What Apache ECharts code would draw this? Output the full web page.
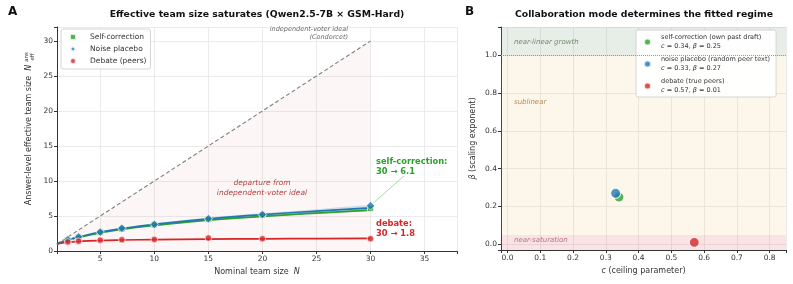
<!DOCTYPE html>
<html>
<head>
<meta charset="utf-8">
<script src="https://cdn.jsdelivr.net/npm/echarts@6/dist/echarts.min.js"></script>
<style>
  html, body { margin: 0; padding: 0; background: #fff; }
  #main { width: 793px; height: 284px; }
</style>
</head>
<body>
<div id="main"></div>
<script>
// ---- panel A data ----
var fitN = [1, 2, 3, 5, 7, 10, 15, 20, 25, 30];
var selfFit = [1.0, 1.55, 1.95, 2.6, 3.1, 3.65, 4.4, 4.95, 5.4, 5.85];
var selfLo = [1.0, 1.52, 1.9, 2.55, 3.03, 3.57, 4.3, 4.83, 5.27, 5.7];
var selfHi = [1.0, 1.58, 2.0, 2.65, 3.17, 3.73, 4.5, 5.07, 5.53, 6.0];
var noiseFit = [1.0, 1.6, 2.0, 2.7, 3.2, 3.8, 4.6, 5.2, 5.7, 6.15];
var noiseLo = [1.0, 1.55, 1.93, 2.6, 3.08, 3.65, 4.42, 4.98, 5.42, 5.8];
var noiseHi = [1.0, 1.65, 2.07, 2.8, 3.32, 3.95, 4.78, 5.42, 5.98, 6.5];
var debateFit = [1.0, 1.25, 1.37, 1.5, 1.57, 1.63, 1.7, 1.74, 1.77, 1.79];
var debateLo = [1.0, 1.15, 1.27, 1.4, 1.47, 1.53, 1.6, 1.64, 1.67, 1.69];
var debateHi = [1.0, 1.35, 1.47, 1.6, 1.67, 1.73, 1.8, 1.84, 1.87, 1.89];

var obsN = [2, 3, 5, 7, 10, 15, 20, 30];
var selfObs = [1.55, 1.95, 2.65, 3.15, 3.75, 4.55, 5.15, 6.1];
var noiseObs = [1.6, 2.0, 2.7, 3.25, 3.8, 4.6, 5.2, 6.45];
var debateObs = [1.3, 1.4, 1.55, 1.6, 1.65, 1.85, 1.75, 1.75];

var idealLine = [[1, 1], [30, 30]];

// ---- panel B data ----
var modes = ['self-correction (own past draft)', 'noise placebo (random peer text)', 'debate (true peers)'];
var cVals = [0.34, 0.33, 0.57];
var betaVals = [0.25, 0.27, 0.01];
var modeColors = ['#2ca02c', '#1f77b4', '#d62728'];

var GREEN = '#2ca02c', BLUE = '#1f77b4', RED = '#d62728';
var FONT = 'DejaVu Sans';

function pairs(xs, ys) {
    return xs.map(function (x, i) { return [x, ys[i]]; });
}

// confidence band drawn as one polygon through the axis scales
function bandSeries(lo, hi, color) {
    return {
        type: 'custom', xAxisIndex: 0, yAxisIndex: 0, silent: true, z: 2,
        data: [[fitN[0], lo[0]]],
        renderItem: function (params, api) {
            var pts = [];
            for (var i = 0; i < fitN.length; i++) pts.push(api.coord([fitN[i], hi[i]]));
            for (var j = fitN.length - 1; j >= 0; j--) pts.push(api.coord([fitN[j], lo[j]]));
            return {
                type: 'polygon', shape: {points: pts, smooth: 0.3},
                style: {fill: color, stroke: null}
            };
        }
    };
}

var axisLineStyle = {show: true, onZero: false, lineStyle: {color: '#333', width: 1}};
var splitLineStyle = {show: true, lineStyle: {color: '#e6e6e6', width: 0.8}};
var tickStyle = {show: true, length: 3, lineStyle: {color: '#333'}};
var labelStyle = {fontFamily: FONT, fontSize: 7.5, color: '#333', margin: 4};

var chart = echarts.init(document.getElementById('main'), null, {renderer: 'canvas'});

var series = [];
// departure region and ideal diagonal
series.push({
    type: 'line', xAxisIndex: 0, yAxisIndex: 0, data: idealLine, symbol: 'none',
    lineStyle: {opacity: 0}, areaStyle: {color: 'rgba(220,80,70,0.07)', origin: 'start'}, silent: true, z: 1
});
series.push({
    type: 'line', xAxisIndex: 0, yAxisIndex: 0, data: idealLine, symbol: 'none',
    lineStyle: {color: '#7f7f7f', width: 1.1, type: [4, 2.5]}, silent: true, z: 3
});
series.push(bandSeries(selfLo, selfHi, 'rgba(44,160,44,0.15)'));
series.push(bandSeries(noiseLo, noiseHi, 'rgba(31,119,180,0.2)'));
series.push(bandSeries(debateLo, debateHi, 'rgba(214,39,40,0.15)'));
[[selfFit, GREEN], [noiseFit, BLUE], [debateFit, RED]].forEach(function (f) {
    series.push({
        type: 'line', xAxisIndex: 0, yAxisIndex: 0, data: pairs(fitN, f[0]), smooth: true,
        symbol: 'none', lineStyle: {color: f[1], width: 1.7}, silent: true, z: 4
    });
});
series.push({
    name: 'Self-correction', type: 'scatter', xAxisIndex: 0, yAxisIndex: 0,
    data: pairs(obsN, selfObs), symbol: 'rect', symbolSize: 6,
    itemStyle: {color: GREEN, borderColor: '#fff', borderWidth: 0.8}, z: 5
});
series.push({
    name: 'Noise placebo', type: 'scatter', xAxisIndex: 0, yAxisIndex: 0,
    data: pairs(obsN, noiseObs), symbol: 'diamond', symbolSize: 8.5,
    itemStyle: {color: BLUE, borderColor: '#fff', borderWidth: 0.8}, z: 6
});
series.push({
    name: 'Debate (peers)', type: 'scatter', xAxisIndex: 0, yAxisIndex: 0,
    data: pairs(obsN, debateObs), symbol: 'circle', symbolSize: 6.5,
    itemStyle: {color: RED, borderColor: '#fff', borderWidth: 0.8}, z: 6
});

// panel B
series.push({
    type: 'scatter', xAxisIndex: 1, yAxisIndex: 1, data: [], silent: true,
    markArea: {
        silent: true,
        data: [
            [{yAxis: 1.0, itemStyle: {color: 'rgba(120,160,120,0.18)'}}, {yAxis: 1.15}],
            [{yAxis: 0.05, itemStyle: {color: 'rgba(240,200,110,0.14)'}}, {yAxis: 1.0}],
            [{yAxis: -0.03, itemStyle: {color: 'rgba(230,100,110,0.18)'}}, {yAxis: 0.05}]
        ]
    },
    markLine: {
        silent: true, symbol: 'none', label: {show: false},
        lineStyle: {color: '#8aa383', type: 'dotted', width: 1},
        data: [{yAxis: 1.0}]
    }
});
modes.forEach(function (m, i) {
    series.push({
        name: m, type: 'scatter', xAxisIndex: 1, yAxisIndex: 1,
        data: [[cVals[i], betaVals[i]]], symbol: 'circle', symbolSize: 10,
        itemStyle: {color: modeColors[i], borderColor: '#fff', borderWidth: 1.2}, z: 5 + i
    });
});

var legendB = {};
modes.forEach(function (m, i) {
    legendB[m] = '{t|' + m + '}\n{i|c}{t| = ' + cVals[i].toFixed(2) + ', }{i|β}{t| = ' + betaVals[i].toFixed(2) + '}';
});

var option = {
    animation: false,
    backgroundColor: '#fff',
    textStyle: {fontFamily: FONT},
    grid: [
        {left: 57, right: 336, top: 27, bottom: 33},
        {left: 501, right: 7, top: 27, bottom: 34}
    ],
    legend: [
        {
            data: ['Self-correction', 'Noise placebo', 'Debate (peers)'],
            left: 61, top: 29, orient: 'vertical', itemGap: 4, itemWidth: 6, itemHeight: 6,
            padding: [4, 4, 4, 8], borderColor: '#ccc', borderWidth: 0.8, borderRadius: 2,
            backgroundColor: 'rgba(255,255,255,0.85)',
            textStyle: {fontFamily: FONT, fontSize: 7.5, color: '#333', padding: [0, 0, 0, 9]}
        },
        {
            data: modes,
            left: 636, top: 30, orient: 'vertical', itemGap: 6, itemWidth: 7, itemHeight: 7,
            padding: [4, 6, 3, 7], borderColor: '#ccc', borderWidth: 0.8, borderRadius: 2,
            backgroundColor: 'rgba(255,255,255,0.9)',
            formatter: function (name) { return legendB[name]; },
            textStyle: {
                fontFamily: FONT, fontSize: 6.5, color: '#333', padding: [0, 0, 0, 5],
                rich: {
                    t: {fontFamily: FONT, fontSize: 6.5, color: '#333', lineHeight: 9},
                    i: {fontFamily: FONT, fontSize: 6.5, color: '#333', fontStyle: 'italic', lineHeight: 9}
                }
            }
        }
    ],
    xAxis: [
        {
            type: 'value', gridIndex: 0, min: 1, max: 38, splitNumber: 7,
            axisLine: axisLineStyle, axisTick: tickStyle, splitLine: splitLineStyle,
            axisLabel: Object.assign({}, labelStyle, {
                formatter: function (v) { return (v % 5 === 0) ? String(v) : ''; }
            }),
            name: 'Nominal team size  {i|N}', nameLocation: 'middle', nameGap: 15,
            nameTextStyle: {
                fontFamily: FONT, fontSize: 8, color: '#333',
                rich: {i: {fontFamily: FONT, fontSize: 8, fontStyle: 'italic', color: '#333'}}
            }
        },
        {
            type: 'value', gridIndex: 1, min: -0.02, max: 0.85, splitNumber: 9,
            axisLine: axisLineStyle, axisTick: tickStyle, splitLine: splitLineStyle,
            axisLabel: Object.assign({}, labelStyle, {
                formatter: function (v) {
                    var k = Math.round(v * 10);
                    return (v >= -1e-9 && Math.abs(v * 10 - k) < 1e-6) ? (k / 10).toFixed(1) : '';
                }
            }),
            name: '{i|c} (ceiling parameter)', nameLocation: 'middle', nameGap: 16,
            nameTextStyle: {
                fontFamily: FONT, fontSize: 8, color: '#333',
                rich: {i: {fontFamily: FONT, fontSize: 8, fontStyle: 'italic', color: '#333'}}
            }
        }
    ],
    yAxis: [
        {
            type: 'value', gridIndex: 0, min: 0, max: 32, interval: 5,
            axisLine: axisLineStyle, axisTick: tickStyle, splitLine: splitLineStyle,
            axisLabel: Object.assign({}, labelStyle, {
                formatter: function (v) { return (v % 5 === 0) ? String(v) : ''; }
            }),
            name: 'Answer-level effective team size  {i|N}', nameLocation: 'middle', nameGap: 24,
            nameRotate: 90,
            nameTextStyle: {
                fontFamily: FONT, fontSize: 8, color: '#333', padding: [0, 0, 0, 8],
                rich: {i: {fontFamily: FONT, fontSize: 8, fontStyle: 'italic', color: '#333'}}
            }
        },
        {
            type: 'value', gridIndex: 1, min: -0.03, max: 1.15, splitNumber: 6,
            axisLine: axisLineStyle, axisTick: tickStyle, splitLine: splitLineStyle,
            axisLabel: Object.assign({}, labelStyle, {
                formatter: function (v) {
                    var k = Math.round(v * 5);
                    return (v >= -1e-9 && Math.abs(v * 5 - k) < 1e-6) ? (k / 5).toFixed(1) : '';
                }
            }),
            name: '{i|β} (scaling exponent)', nameLocation: 'middle', nameGap: 24, nameRotate: 90,
            nameTextStyle: {
                fontFamily: FONT, fontSize: 8, color: '#333',
                rich: {i: {fontFamily: FONT, fontSize: 8, fontStyle: 'italic', color: '#333'}}
            }
        }
    ],
    series: series
};
chart.setOption(option);

// annotations
var endSelf = chart.convertToPixel({gridIndex: 0}, [obsN[obsN.length - 1], noiseObs[noiseObs.length - 1]]);
function txt(x, y, text, o) {
    return {
        type: 'text', x: x, y: y, silent: true, z: 100,
        style: Object.assign({
            text: text, fontFamily: FONT, fontSize: 8, fill: '#333',
            align: 'left', verticalAlign: 'middle'
        }, o || {})
    };
}
chart.setOption({
    graphic: [
        txt(8, 12, 'A', {fontSize: 12, fontWeight: 'bold', fill: '#111'}),
        txt(465, 12, 'B', {fontSize: 12, fontWeight: 'bold', fill: '#111'}),
        txt(257, 15, 'Effective team size saturates (Qwen2.5-7B × GSM-Hard)',
            {fontSize: 9.3, fontWeight: 'bold', fill: '#111', align: 'center'}),
        txt(644, 15, 'Collaboration mode determines the fitted regime',
            {fontSize: 9.3, fontWeight: 'bold', fill: '#111', align: 'center'}),
        // N_eff^ans sub/superscripts
        {type: 'text', x: 26.5, y: 57, rotation: Math.PI / 2, silent: true,
            style: {text: 'ans', fontFamily: FONT, fontSize: 5.5, fill: '#333', align: 'center', verticalAlign: 'middle'}},
        {type: 'text', x: 33, y: 57, rotation: Math.PI / 2, silent: true,
            style: {text: 'eff', fontFamily: FONT, fontSize: 5.5, fill: '#333', align: 'center', verticalAlign: 'middle'}},
        txt(348, 29, 'independent-voter ideal', {fontSize: 6.5, fontStyle: 'italic', fill: '#666', align: 'right'}),
        txt(348, 37.5, '(Condorcet)', {fontSize: 6.5, fontStyle: 'italic', fill: '#666', align: 'right'}),
        txt(262, 183, 'departure from', {fontSize: 7.5, fontStyle: 'italic', fill: '#b0413e', align: 'center'}),
        txt(262, 193, 'independent-voter ideal', {fontSize: 7.5, fontStyle: 'italic', fill: '#b0413e', align: 'center'}),
        {type: 'line', silent: true, z: 90,
            shape: {x1: endSelf[0] + 3, y1: endSelf[1] - 3, x2: 404, y2: 176},
            style: {stroke: '#8fd08a', lineWidth: 0.8}},
        txt(376, 162, 'self-correction:', {fontSize: 8.3, fontWeight: 'bold', fill: GREEN}),
        txt(376, 172, '30 → 6.1', {fontSize: 8.3, fontWeight: 'bold', fill: GREEN}),
        txt(376, 224, 'debate:', {fontSize: 8.3, fontWeight: 'bold', fill: RED}),
        txt(376, 234, '30 → 1.8', {fontSize: 8.3, fontWeight: 'bold', fill: RED}),
        txt(514, 42, 'near-linear growth', {fontSize: 7, fontStyle: 'italic', fill: '#6f8a6a'}),
        txt(514, 102, 'sublinear', {fontSize: 7, fontStyle: 'italic', fill: '#b38b4f'}),
        txt(514, 240, 'near-saturation', {fontSize: 7, fontStyle: 'italic', fill: '#b5727c'})
    ]
});
</script>
</body>
</html>
